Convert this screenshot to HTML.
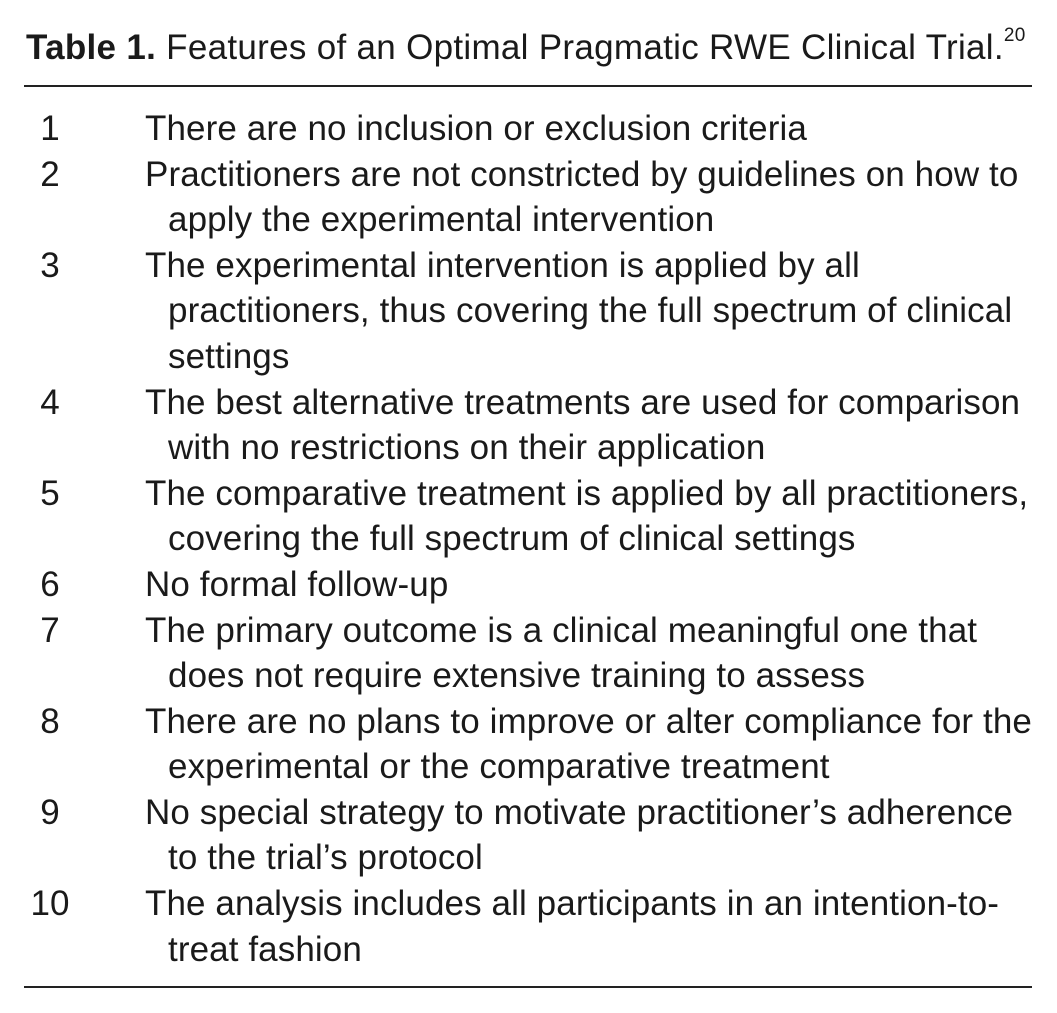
<!DOCTYPE html>
<html><head><meta charset="utf-8"><style>
html,body{margin:0;padding:0;background:#fff;}
body{width:1057px;height:1013px;position:relative;overflow:hidden;font-family:"Liberation Sans",sans-serif;color:#1a1a1a;}
.l{position:absolute;font-size:35px;line-height:1;white-space:nowrap;letter-spacing:0.1px;}
.n{position:absolute;font-size:35px;line-height:1;width:60px;text-align:center;left:20px;}
.rule{position:absolute;left:24px;width:1008px;height:2px;background:#222;}
</style></head><body>
<div class="l" style="left:26px;top:30px;font-size:35px;letter-spacing:0.3px;"><b>Table 1.</b> Features of an Optimal Pragmatic RWE Clinical Trial.<sup style="font-size:19px;position:relative;top:-5px;">20</sup></div>
<div class="rule" style="top:85px"></div>

<div class="n" style="top:111px">1</div><div class="l" style="left:145px;top:111px">There are no inclusion or exclusion criteria</div>
<div class="n" style="top:157px">2</div><div class="l" style="left:145px;top:157px">Practitioners are not constricted by guidelines on how to</div>
<div class="l" style="left:168px;top:202px">apply the experimental intervention</div>
<div class="n" style="top:248px">3</div><div class="l" style="left:145px;top:248px">The experimental intervention is applied by all</div>
<div class="l" style="left:168px;top:293px">practitioners, thus covering the full spectrum of clinical</div>
<div class="l" style="left:168px;top:339px">settings</div>
<div class="n" style="top:385px">4</div><div class="l" style="left:145px;top:385px">The best alternative treatments are used for comparison</div>
<div class="l" style="left:168px;top:430px">with no restrictions on their application</div>
<div class="n" style="top:476px">5</div><div class="l" style="left:145px;top:476px">The comparative treatment is applied by all practitioners,</div>
<div class="l" style="left:168px;top:521px">covering the full spectrum of clinical settings</div>
<div class="n" style="top:567px">6</div><div class="l" style="left:145px;top:567px">No formal follow-up</div>
<div class="n" style="top:613px">7</div><div class="l" style="left:145px;top:613px">The primary outcome is a clinical meaningful one that</div>
<div class="l" style="left:168px;top:658px">does not require extensive training to assess</div>
<div class="n" style="top:704px">8</div><div class="l" style="left:145px;top:704px">There are no plans to improve or alter compliance for the</div>
<div class="l" style="left:168px;top:749px">experimental or the comparative treatment</div>
<div class="n" style="top:795px">9</div><div class="l" style="left:145px;top:795px">No special strategy to motivate practitioner’s adherence</div>
<div class="l" style="left:168px;top:840px">to the trial’s protocol</div>
<div class="n" style="top:886px">10</div><div class="l" style="left:145px;top:886px">The analysis includes all participants in an intention-to-</div>
<div class="l" style="left:168px;top:932px">treat fashion</div>
<div class="rule" style="top:986px"></div>
</body></html>
